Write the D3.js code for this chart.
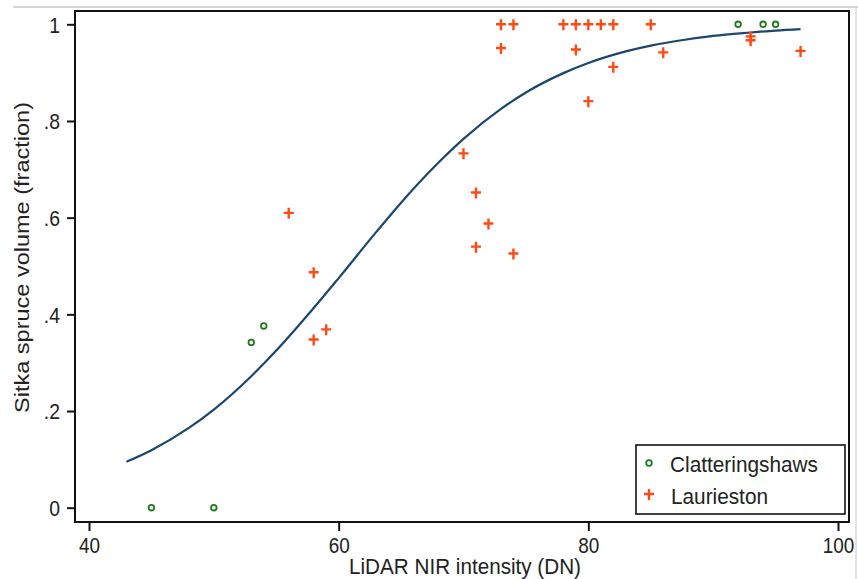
<!DOCTYPE html>
<html>
<head>
<meta charset="utf-8">
<script src="https://cdn.jsdelivr.net/npm/d3@7"></script>
<style>
  html, body { margin: 0; padding: 0; background: #fff; }
  svg { display: block; font-family: "Liberation Sans", Arial, sans-serif; }
</style>
</head>
<body>
<svg id="chart" width="858" height="579"></svg>
<script>
// ---- data ----
const xTicks = [40, 60, 80, 100];
const yTicks = [0, 0.2, 0.4, 0.6, 0.8, 1];
const yTickLabels = ["0", ".2", ".4", ".6", ".8", "1"];
const xTitle = "LiDAR NIR intensity (DN)";
const yTitle = "Sitka spruce volume (fraction)";
const seriesNames = ["Clatteringshaws", "Laurieston"];

const clatX = [45, 50, 53, 54, 92, 94, 95];
const clatY = [0, 0, 0.342, 0.376, 1.0, 1.0, 1.0];

const laurX = [56, 58, 58, 59, 70, 71, 71, 72, 74, 73, 74, 73, 78, 79, 80, 81, 82, 85, 79, 82, 80, 86, 93, 93, 97];
const laurY = [0.610, 0.487, 0.348, 0.369, 0.733, 0.652, 0.540, 0.588, 0.526, 1.0, 1.0, 0.951, 1.0, 1.0, 1.0, 1.0, 1.0, 1.0, 0.948, 0.912, 0.841, 0.942, 0.975, 0.967, 0.945];

const fitX = [43, 45, 48, 50, 53, 55, 58, 60, 63, 65, 68, 70, 73, 75, 78, 80, 83, 85, 88, 90, 93, 95, 97];
const fitY = [0.095, 0.119, 0.165, 0.203, 0.272, 0.325, 0.413, 0.475, 0.570, 0.631, 0.714, 0.763, 0.825, 0.859, 0.899, 0.920, 0.944, 0.956, 0.969, 0.976, 0.983, 0.987, 0.990];

// ---- layout ----
const svg = d3.select("#chart");
const frame = { left: 75, right: 849, top: 11, bottom: 522 };
const x = d3.scaleLinear().domain([40, 100]).range([89, 838]);
const y = d3.scaleLinear().domain([0, 1]).range([507.7, 24.3]);
const SQ = 0.88; // horizontal squish of the source image text

const green = "#1f7a1f", orange = "#ff4a14", navy = "#1a476f";

// screenshot border artifacts
svg.append("line").attr("x1", 13).attr("x2", 858).attr("y1", 7).attr("y2", 7)
  .attr("stroke", "#c8c8c8").attr("stroke-width", 1.5);
svg.append("line").attr("x1", 856).attr("x2", 856).attr("y1", 7).attr("y2", 579)
  .attr("stroke", "#d0d0d0").attr("stroke-width", 1.2);

// plot frame
svg.append("rect")
  .attr("x", frame.left).attr("y", frame.top)
  .attr("width", frame.right - frame.left).attr("height", frame.bottom - frame.top)
  .attr("fill", "none").attr("stroke", "#111").attr("stroke-width", 2);

// x axis
const gx = svg.append("g").attr("transform", `translate(0,${frame.bottom})`)
  .call(d3.axisBottom(x).tickValues(xTicks).tickSize(9).tickSizeOuter(0).tickFormat(d3.format("d")));
gx.select(".domain").remove();
gx.selectAll(".tick line").attr("stroke", "#111").attr("stroke-width", 2);
gx.selectAll(".tick text")
  .attr("y", 31).attr("dy", 0)
  .attr("transform", `scale(${SQ},1)`)
  .attr("font-size", 21.5).attr("fill", "#222")
  .attr("font-family", "Liberation Sans, Arial, sans-serif");

// y axis
const gy = svg.append("g").attr("transform", `translate(${frame.left},0)`)
  .call(d3.axisLeft(y).tickValues(yTicks).tickSize(8).tickSizeOuter(0)
    .tickFormat((d, i) => yTickLabels[i]));
gy.select(".domain").remove();
gy.selectAll(".tick line").attr("stroke", "#111").attr("stroke-width", 2);
gy.selectAll(".tick text")
  .attr("x", -15 / SQ).attr("dy", "0.36em")
  .attr("transform", `scale(${SQ},1)`)
  .attr("font-size", 22).attr("fill", "#222")
  .attr("font-family", "Liberation Sans, Arial, sans-serif");

// axis titles
svg.append("text")
  .attr("x", 465).attr("y", 574).attr("text-anchor", "middle")
  .attr("font-size", 21.5).attr("fill", "#222")
  .attr("textLength", 232).attr("lengthAdjust", "spacingAndGlyphs")
  .text(xTitle);
svg.append("text")
  .attr("transform", "translate(29,257.5) rotate(-90)")
  .attr("text-anchor", "middle")
  .attr("font-size", 21).attr("fill", "#222")
  .attr("textLength", 311).attr("lengthAdjust", "spacingAndGlyphs")
  .text(yTitle);

// fitted curve
const fit = fitX.map((d, i) => [d, fitY[i]]);
svg.append("path")
  .datum(fit)
  .attr("fill", "none").attr("stroke", navy).attr("stroke-width", 2.2)
  .attr("d", d3.line().x(d => x(d[0])).y(d => y(d[1])).curve(d3.curveMonotoneX));

// markers
const plusPath = "M-5,0H5M0,-5V6";
const laur = laurX.map((d, i) => [d, laurY[i]]);
svg.append("g").selectAll("path").data(laur).join("path")
  .attr("transform", d => `translate(${x(d[0])},${y(d[1])})`)
  .attr("d", plusPath)
  .attr("stroke", orange).attr("stroke-width", 2.4).attr("fill", "none");

const clat = clatX.map((d, i) => [d, clatY[i]]);
svg.append("g").selectAll("circle").data(clat).join("circle")
  .attr("cx", d => x(d[0])).attr("cy", d => y(d[1])).attr("r", 2.8)
  .attr("fill", "none").attr("stroke", green).attr("stroke-width", 1.8);

// legend
const lg = svg.append("g");
lg.append("rect").attr("x", 636).attr("y", 445).attr("width", 209).attr("height", 69)
  .attr("fill", "#fff").attr("stroke", "#111").attr("stroke-width", 1.6);
lg.append("circle").attr("cx", 649).attr("cy", 463).attr("r", 2.8)
  .attr("fill", "none").attr("stroke", green).attr("stroke-width", 1.8);
lg.append("path").attr("transform", "translate(649,494)").attr("d", plusPath)
  .attr("stroke", orange).attr("stroke-width", 2.4).attr("fill", "none");
lg.append("text").attr("x", 670).attr("y", 472).attr("font-size", 22).attr("fill", "#222")
  .attr("textLength", 148).attr("lengthAdjust", "spacingAndGlyphs").text(seriesNames[0]);
lg.append("text").attr("x", 671).attr("y", 504).attr("font-size", 22).attr("fill", "#222")
  .attr("textLength", 97).attr("lengthAdjust", "spacingAndGlyphs").text(seriesNames[1]);
</script>
</body>
</html>
